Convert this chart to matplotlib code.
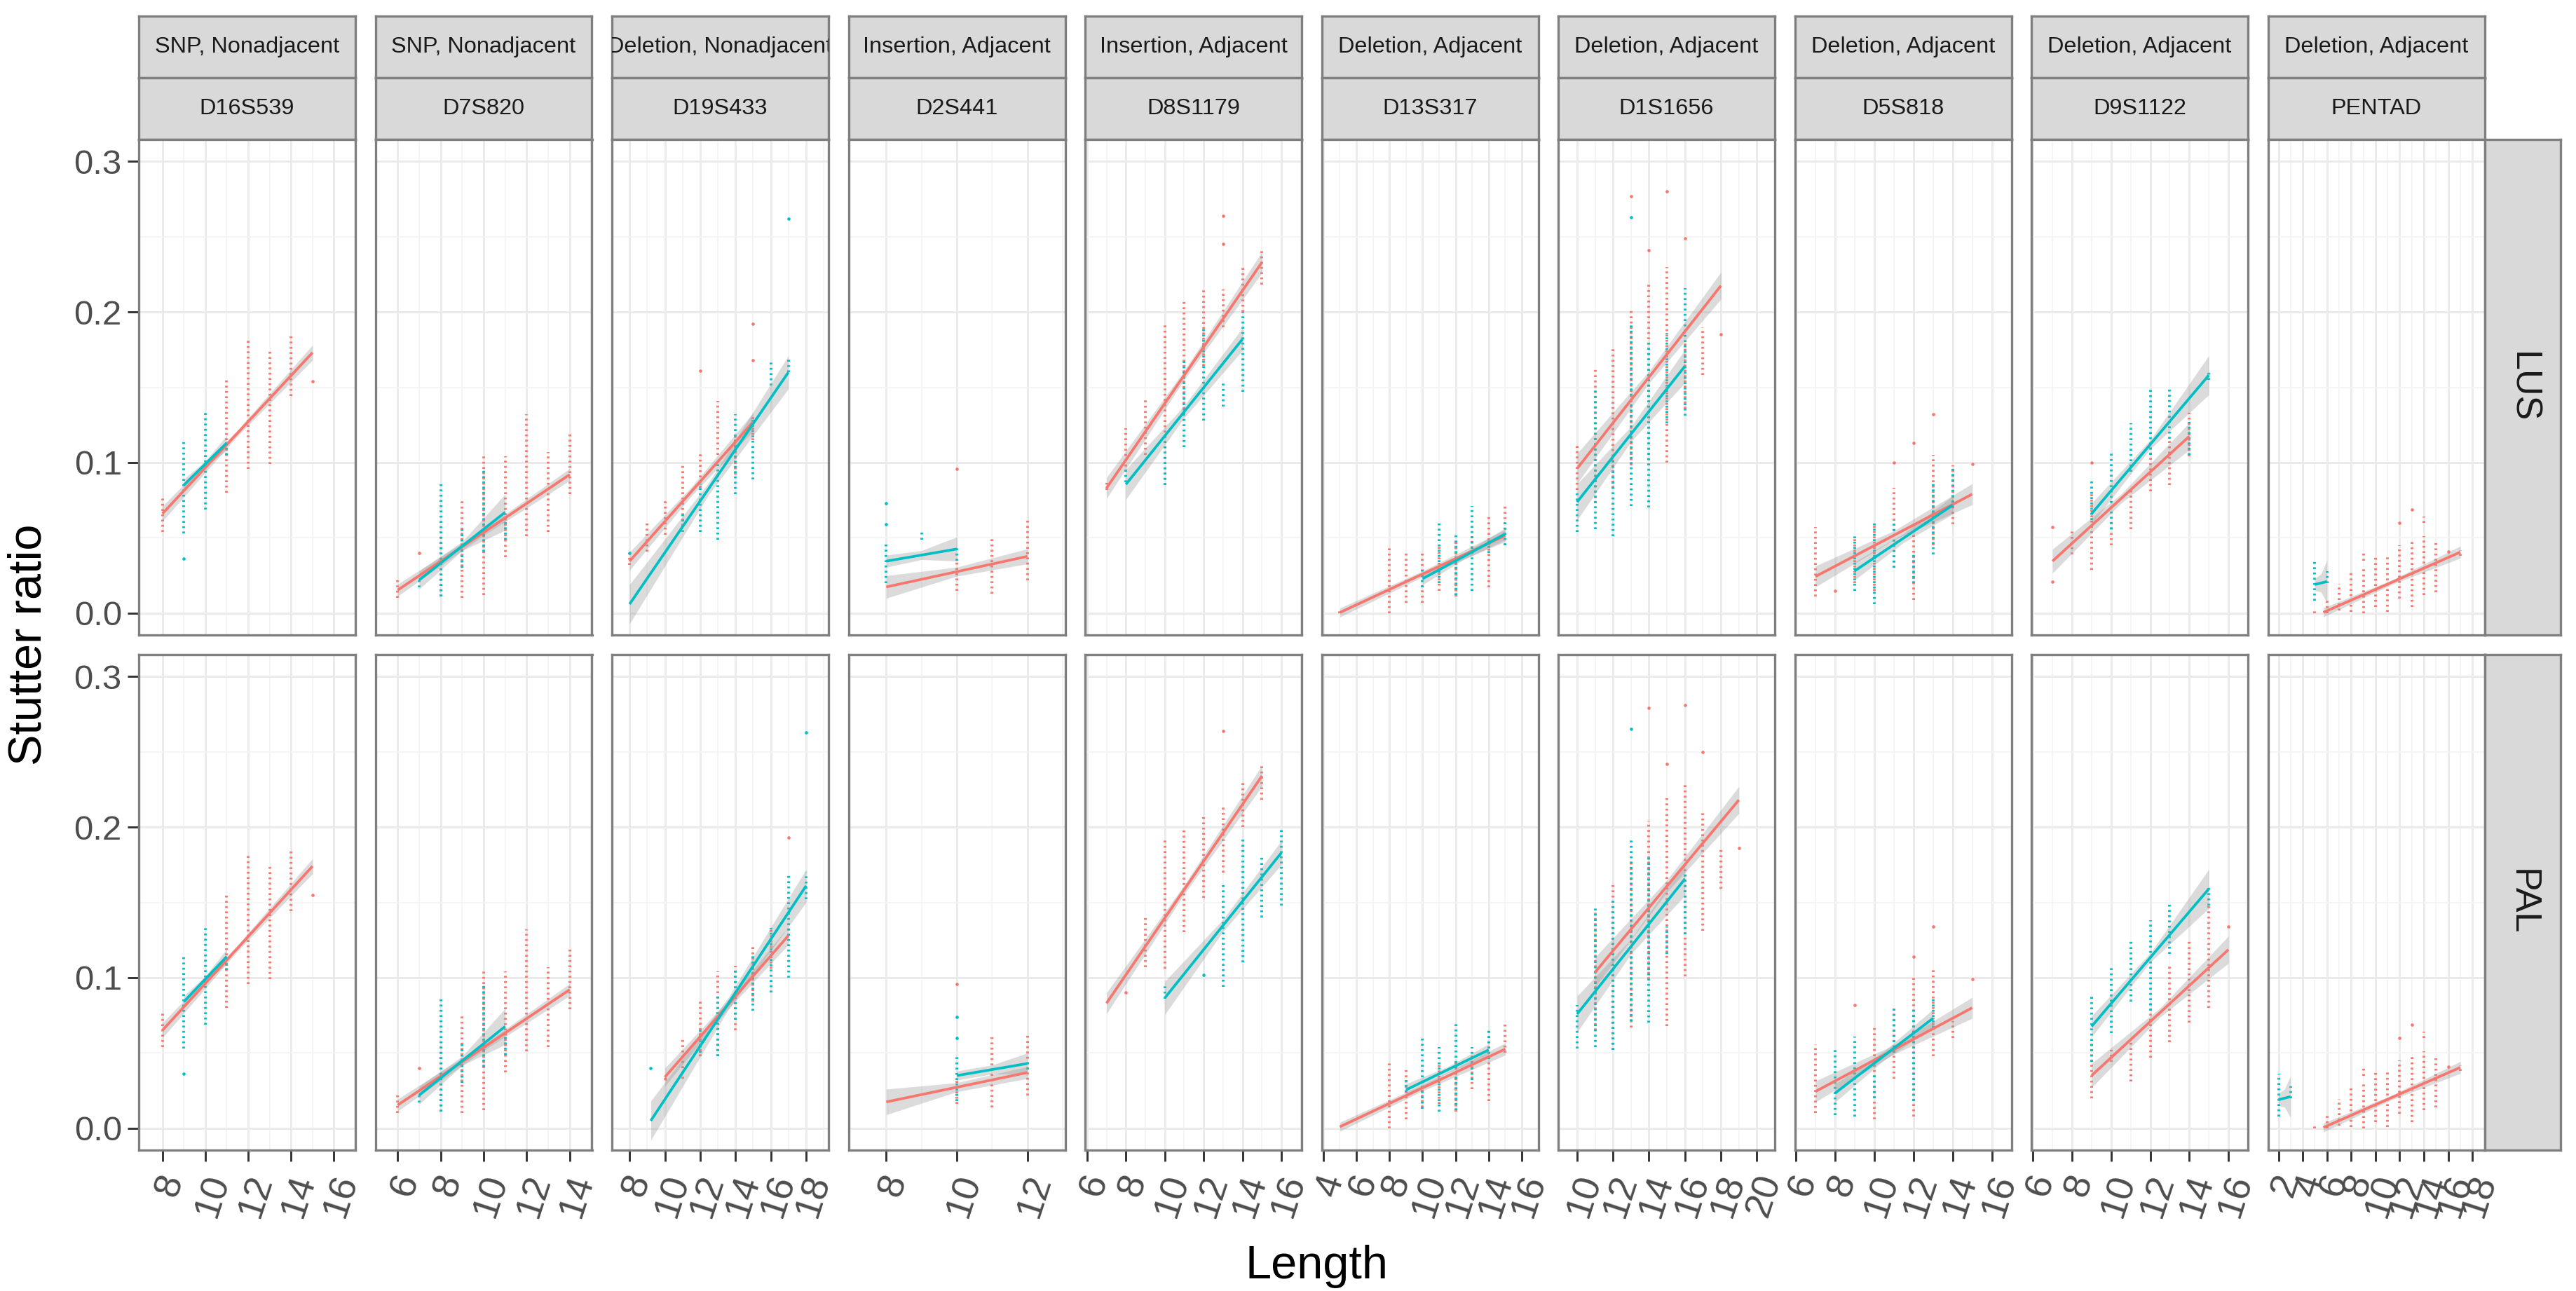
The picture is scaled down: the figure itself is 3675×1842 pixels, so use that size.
import matplotlib
matplotlib.use("Agg")
import matplotlib.pyplot as plt
import matplotlib.transforms as mtransforms

plt.rcParams['font.family'] = ['Liberation Sans', 'DejaVu Sans']

RED = '#F8766D'
CYAN = '#00BFC4'

# facet labels
types = ['SNP, Nonadjacent', 'SNP, Nonadjacent', 'Deletion, Nonadjacent',
         'Insertion, Adjacent', 'Insertion, Adjacent', 'Deletion, Adjacent',
         'Deletion, Adjacent', 'Deletion, Adjacent', 'Deletion, Adjacent',
         'Deletion, Adjacent']
markers = ['D16S539', 'D7S820', 'D19S433', 'D2S441', 'D8S1179', 'D13S317',
           'D1S1656', 'D5S818', 'D9S1122', 'PENTAD']
rows = ['LUS', 'PAL']

# x range and ticks of each column (free scales)
xlims = [(6.9, 16.0), (4.96, 15.04), (7.0, 19.27), (6.93, 13.07), (5.9, 17.04),
         (3.9, 16.0), (8.95, 20.0), (5.95, 16.0), (5.92, 17.0), (1.13, 18.0)]
xticks = [[8, 10, 12, 14, 16], [6, 8, 10, 12, 14], [8, 10, 12, 14, 16, 18],
          [8, 10, 12], [6, 8, 10, 12, 14, 16], [4, 6, 8, 10, 12, 14, 16],
          [10, 12, 14, 16, 18, 20], [6, 8, 10, 12, 14, 16],
          [6, 8, 10, 12, 14, 16], [2, 4, 6, 8, 10, 12, 14, 16, 18]]

# point clouds per length: (length, lowest ratio, highest ratio)
# fits: (x start, x end, y start, y end, band half-width at start, middle, end)
D16S539_LUS_RED = [(8, .054, .077), (11, .080, .156), (12, .096, .181), (13, .099, .176),
                   (14, .144, .186), (15, .154, .154)]
D16S539_LUS_CYAN = [(9, .053, .114), (9, .036, .036), (10, .069, .133), (11, .105, .115)]
D16S539_LUS_FIT = [(8, 15, .066, .173, .005, .002, .005), (9, 11, .085, .113, .004, .002, .005)]
D16S539_PAL_RED = [(8, .054, .077), (11, .080, .156), (12, .096, .181), (13, .099, .176),
                   (14, .144, .186), (15, .155, .155)]
D16S539_PAL_CYAN = [(9, .053, .114), (9, .036, .036), (10, .069, .133), (11, .105, .115)]
D16S539_PAL_FIT = [(8, 15, .065, .174, .005, .002, .005), (9, 11, .084, .114, .004, .002, .005)]

D7S820_LUS_RED = [(6, .010, .022), (7, .040, .040), (8, .011, .056), (9, .010, .075),
                  (10, .012, .106), (11, .037, .104), (12, .051, .132), (13, .054, .107),
                  (14, .079, .120)]
D7S820_LUS_CYAN = [(7, .017, .023), (8, .011, .087), (9, .030, .056), (10, .041, .095),
                   (11, .049, .062)]
D7S820_LUS_FIT = [(6, 14, .0153, .092, .004, .002, .004), (7, 11, .022, .067, .006, .003, .012)]
D7S820_PAL_RED = [(6, .010, .022), (7, .040, .040), (8, .011, .056), (9, .010, .075),
                  (10, .012, .106), (11, .037, .104), (12, .051, .132), (13, .054, .107),
                  (14, .079, .120)]
D7S820_PAL_CYAN = [(7, .017, .023), (8, .011, .087), (9, .030, .056), (10, .041, .095),
                   (11, .049, .062)]
D7S820_PAL_FIT = [(6, 14, .0154, .092, .004, .002, .004), (7, 11, .022, .0676, .006, .003, .012)]

D19S433_LUS_RED = [(8, .032, .040), (9, .041, .060), (10, .052, .075), (11, .058, .100),
                   (12, .083, .107), (12, .161, .161), (13, .105, .141), (14, .092, .118),
                   (15, .115, .130), (15, .168, .168), (15, .192, .192)]
D19S433_LUS_CYAN = [(8, .040, .040), (11, .054, .068), (12, .054, .086), (13, .049, .100),
                    (14, .079, .132), (15, .089, .130), (16, .151, .168), (17, .160, .170),
                    (17, .262, .262)]
D19S433_LUS_FIT = [(8, 15, .0345, .127, .006, .003, .006), (8, 17, .006, .160, .013, .004, .011)]
D19S433_PAL_RED = [(10, .033, .033), (11, .033, .061), (12, .048, .084), (13, .048, .104),
                   (14, .065, .108), (15, .084, .122), (16, .106, .132), (17, .128, .135),
                   (17, .193, .193)]
D19S433_PAL_CYAN = [(9.2, .040, .040), (12, .050, .067), (13, .048, .088), (14, .072, .106),
                    (15, .078, .115), (16, .090, .133), (17, .100, .170), (18, .152, .170),
                    (18, .263, .263)]
D19S433_PAL_FIT = [(10, 17, .034, .128, .006, .003, .006), (9.2, 18, .005, .161, .013, .004, .011)]

D2S441_LUS_RED = [(10, .015, .034), (10, .096, .096), (11, .013, .051), (12, .022, .062)]
D2S441_LUS_CYAN = [(8, .020, .048), (8, .059, .059), (8, .073, .073), (9, .049, .054),
                   (10, .035, .043)]
D2S441_LUS_FIT = [(8, 12, .0174, .0377, .0075, .003, .005), (8, 10, .0345, .0426, .004, .003, .008)]
D2S441_PAL_RED = [(10, .016, .033), (10, .096, .096), (11, .014, .062), (12, .022, .062)]
D2S441_PAL_CYAN = [(10, .018, .049), (10, .060, .060), (10, .074, .074), (12, .039, .046)]
D2S441_PAL_FIT = [(8, 12, .0175, .037, .0085, .003, .004), (10, 12, .035, .043, .003, .003, .007)]

D8S1179_LUS_RED = [(7, .082, .088), (8, .094, .123), (9, .105, .142), (10, .085, .192),
                   (11, .132, .208), (12, .164, .215), (13, .190, .215), (13, .245, .245),
                   (13, .264, .264), (14, .200, .230), (15, .218, .242)]
D8S1179_LUS_CYAN = [(8, .087, .097), (10, .085, .120), (11, .110, .168), (12, .128, .190),
                    (13, .137, .154), (14, .147, .200)]
D8S1179_LUS_FIT = [(7, 15, .083, .233, .007, .003, .007), (8, 14, .0855, .182, .010, .004, .0075)]
D8S1179_PAL_RED = [(8, .090, .090), (9, .107, .142), (10, .106, .193), (11, .130, .200),
                   (12, .153, .208), (13, .170, .215), (13, .264, .264), (14, .200, .230),
                   (15, .218, .242)]
D8S1179_PAL_CYAN = [(10, .086, .095), (12, .102, .102), (13, .094, .163), (14, .110, .193),
                    (15, .140, .180), (16, .148, .200)]
D8S1179_PAL_FIT = [(7, 15, .083, .234, .007, .003, .007), (10, 16, .0865, .183, .011, .004, .008)]

D13S317_LUS_RED = [(5, .000, .002), (8, .000, .043), (9, .007, .041), (10, .007, .041),
                   (11, .015, .045), (12, .011, .049), (13, .043, .051), (14, .017, .066),
                   (15, .045, .071)]
D13S317_LUS_CYAN = [(10, .017, .029), (11, .020, .060), (12, .012, .054), (13, .015, .071),
                    (14, .040, .050), (15, .045, .062)]
D13S317_LUS_FIT = [(5, 15, .0004, .0515, .003, .002, .004), (10, 15, .0228, .0526, .004, .002, .004)]
D13S317_PAL_RED = [(8, .000, .045), (9, .006, .041), (10, .014, .026), (11, .016, .044),
                   (12, .011, .046), (13, .026, .049), (14, .018, .067), (15, .050, .071)]
D13S317_PAL_CYAN = [(9, .024, .032), (10, .013, .060), (11, .011, .054), (12, .012, .070),
                    (13, .032, .054), (14, .046, .067)]
D13S317_PAL_FIT = [(5, 15, .001, .0526, .003, .002, .004), (9, 14, .0255, .052, .004, .002, .004)]

D1S1656_LUS_RED = [(10, .082, .113), (11, .073, .162), (12, .083, .177), (13, .098, .203),
                   (13, .277, .277), (14, .098, .220), (14, .241, .241), (15, .100, .230),
                   (15, .280, .280), (16, .136, .180), (16, .249, .249), (17, .158, .190),
                   (18, .185, .185)]
D1S1656_LUS_CYAN = [(10, .054, .081), (11, .056, .149), (12, .051, .103), (13, .071, .192),
                    (13, .263, .263), (14, .070, .179), (15, .126, .186), (16, .131, .216)]
D1S1656_LUS_FIT = [(10, 18, .096, .2174, .010, .004, .009), (10, 16, .0738, .164, .012, .005, .011)]
D1S1656_PAL_RED = [(11, .065, .144), (12, .052, .162), (13, .067, .177), (14, .099, .204),
                   (14, .279, .279), (15, .068, .221), (15, .242, .242), (16, .101, .230),
                   (16, .281, .281), (17, .131, .210), (17, .250, .250), (18, .159, .185),
                   (19, .186, .186)]
D1S1656_PAL_CYAN = [(10, .053, .082), (11, .054, .146), (12, .052, .152), (13, .071, .192),
                    (13, .265, .265), (14, .070, .180), (15, .116, .134), (16, .129, .170)]
D1S1656_PAL_FIT = [(11, 19, .1036, .218, .010, .004, .009), (10, 16, .0758, .1656, .012, .005, .011)]

D5S818_LUS_RED = [(7, .011, .057), (8, .015, .015), (9, .020, .050), (10, .015, .060),
                  (11, .030, .083), (11, .100, .100), (12, .009, .054), (12, .113, .113),
                  (13, .045, .105), (13, .132, .132), (14, .059, .098), (15, .099, .099)]
D5S818_LUS_CYAN = [(9, .015, .053), (10, .006, .061), (11, .030, .062), (12, .020, .041),
                   (13, .039, .088), (14, .070, .098)]
D5S818_LUS_FIT = [(7, 15, .0243, .079, .007, .003, .007), (9, 14, .028, .0717, .006, .003, .006)]
D5S818_PAL_RED = [(7, .010, .056), (9, .082, .082), (10, .006, .068), (11, .033, .081),
                  (12, .008, .102), (12, .114, .114), (13, .048, .105), (13, .134, .134),
                  (14, .060, .071), (15, .099, .099)]
D5S818_PAL_CYAN = [(8, .009, .054), (9, .008, .061), (10, .020, .037), (11, .050, .079),
                   (12, .018, .079), (13, .067, .086)]
D5S818_PAL_FIT = [(7, 15, .0244, .080, .007, .003, .007), (8, 13, .0233, .073, .006, .003, .006)]

D9S1122_LUS_RED = [(7, .021, .021), (7, .057, .057), (8, .039, .055), (9, .029, .079),
                   (9, .100, .100), (10, .045, .060), (11, .056, .083), (12, .081, .113),
                   (13, .085, .115), (14, .104, .133)]
D9S1122_LUS_CYAN = [(9, .062, .088), (10, .056, .107), (11, .094, .126), (12, .105, .149),
                    (13, .116, .150), (14, .105, .127), (15, .155, .160)]
D9S1122_LUS_FIT = [(7, 14, .0345, .1174, .008, .003, .009), (9, 15, .066, .158, .007, .003, .013)]
D9S1122_PAL_RED = [(9, .020, .058), (10, .044, .052), (11, .031, .058), (12, .047, .084),
                   (13, .057, .109), (14, .070, .125), (15, .080, .148), (16, .134, .134)]
D9S1122_PAL_CYAN = [(9, .044, .088), (10, .063, .108), (11, .084, .124), (12, .078, .138),
                    (13, .116, .150), (15, .148, .160)]
D9S1122_PAL_FIT = [(9, 16, .035, .1186, .008, .003, .009), (9, 15, .0676, .159, .007, .003, .013)]

PENTAD_LUS_RED = [(5, .000, .003), (6, .000, .010), (7, .002, .0195), (8, .001, .029),
                  (9, .000, .031), (9, .035, .040), (10, .004, .038), (11, .001, .037),
                  (12, .0097, .045), (12, .060, .060), (13, .004, .049), (13, .069, .069),
                  (14, .012, .051), (14, .060, .064), (15, .014, .047), (16, .041, .041),
                  (17, .038, .042)]
PENTAD_LUS_CYAN = [(5, .0085, .036), (6, .020, .028)]
PENTAD_LUS_FIT = [(5.7, 17, .0005, .0405, .003, .0015, .004), (5, 6, .019, .021, .004, .006, .014)]
PENTAD_PAL_RED = [(5, .000, .003), (6, .000, .010), (7, .002, .0195), (8, .001, .029),
                  (9, .000, .031), (9, .035, .040), (10, .004, .038), (11, .001, .037),
                  (12, .0097, .045), (12, .060, .060), (13, .004, .049), (13, .069, .069),
                  (14, .012, .051), (14, .060, .064), (15, .014, .047), (16, .041, .041),
                  (17, .038, .042)]
PENTAD_PAL_CYAN = [(2, .008, .036), (3, .020, .028)]
PENTAD_PAL_FIT = [(5.7, 17, .0005, .0404, .003, .0015, .004), (2, 3, .019, .021, .004, .006, .014)]

panel_data = {
    'D16S539': [(D16S539_LUS_RED, D16S539_LUS_CYAN, D16S539_LUS_FIT),
                (D16S539_PAL_RED, D16S539_PAL_CYAN, D16S539_PAL_FIT)],
    'D7S820': [(D7S820_LUS_RED, D7S820_LUS_CYAN, D7S820_LUS_FIT),
               (D7S820_PAL_RED, D7S820_PAL_CYAN, D7S820_PAL_FIT)],
    'D19S433': [(D19S433_LUS_RED, D19S433_LUS_CYAN, D19S433_LUS_FIT),
                (D19S433_PAL_RED, D19S433_PAL_CYAN, D19S433_PAL_FIT)],
    'D2S441': [(D2S441_LUS_RED, D2S441_LUS_CYAN, D2S441_LUS_FIT),
               (D2S441_PAL_RED, D2S441_PAL_CYAN, D2S441_PAL_FIT)],
    'D8S1179': [(D8S1179_LUS_RED, D8S1179_LUS_CYAN, D8S1179_LUS_FIT),
                (D8S1179_PAL_RED, D8S1179_PAL_CYAN, D8S1179_PAL_FIT)],
    'D13S317': [(D13S317_LUS_RED, D13S317_LUS_CYAN, D13S317_LUS_FIT),
                (D13S317_PAL_RED, D13S317_PAL_CYAN, D13S317_PAL_FIT)],
    'D1S1656': [(D1S1656_LUS_RED, D1S1656_LUS_CYAN, D1S1656_LUS_FIT),
                (D1S1656_PAL_RED, D1S1656_PAL_CYAN, D1S1656_PAL_FIT)],
    'D5S818': [(D5S818_LUS_RED, D5S818_LUS_CYAN, D5S818_LUS_FIT),
               (D5S818_PAL_RED, D5S818_PAL_CYAN, D5S818_PAL_FIT)],
    'D9S1122': [(D9S1122_LUS_RED, D9S1122_LUS_CYAN, D9S1122_LUS_FIT),
                (D9S1122_PAL_RED, D9S1122_PAL_CYAN, D9S1122_PAL_FIT)],
    'PENTAD': [(PENTAD_LUS_RED, PENTAD_LUS_CYAN, PENTAD_LUS_FIT),
               (PENTAD_PAL_RED, PENTAD_PAL_CYAN, PENTAD_PAL_FIT)],
}

yticks = [0.0, 0.1, 0.2, 0.3]
ylim = (-0.0145, 0.3145)

W, H = 3675, 1842
fig = plt.figure(figsize=(W / 300, H / 300), dpi=300)


def px_axes(left, top, width, height):
    # add axes using pixel coordinates measured from the top left corner
    return fig.add_axes([left / W, 1 - (top + height) / H, width / W, height / H])


def draw_cloud(ax, cols, color):
    for x, lo, hi in cols:
        if hi - lo < 0.002:
            ax.plot([x], [(lo + hi) / 2], 'o', ms=1.1, mew=0, color=color, zorder=2)
        else:
            ax.vlines(x, lo, hi, color=color, lw=0.9, linestyles=(0, (0.7, 1.3)), zorder=2)


def draw_fit(ax, fit, color):
    x0, x1, y0, y1, w0, wm, w1 = fit
    xm = (x0 + x1) / 2
    ym = (y0 + y1) / 2
    ax.fill_between([x0, xm, x1], [y0 - w0, ym - wm, y1 - w1], [y0 + w0, ym + wm, y1 + w1],
                    color='#999999', alpha=0.35, lw=0, zorder=3)
    ax.plot([x0, x1], [y0, y1], color=color, lw=0.9, zorder=4, solid_capstyle='butt')


panel_w, panel_h = 309, 707
row_tops = [199, 934]
strip_h = 88
border = '#7F7F7F'
strip_fill = '#D9D9D9'

for j, marker in enumerate(markers):
    left = 198 + j * 337.5
    ticks = xticks[j]
    minor = [t + 1 for t in ticks]

    # two strip rows on top of each column
    for k, label in enumerate([types[j], marker]):
        sax = px_axes(left, 23 + k * strip_h, panel_w, strip_h)
        sax.set_facecolor(strip_fill)
        sax.set_xticks([])
        sax.set_yticks([])
        for sp in sax.spines.values():
            sp.set_color(border)
            sp.set_linewidth(0.8)
        sax.text(0.5, 0.5, label, transform=sax.transAxes, ha='center', va='center',
                 fontsize=7.8, color='#1A1A1A', clip_on=True)

    for i, row in enumerate(rows):
        ax = px_axes(left, row_tops[i], panel_w, panel_h)
        ax.set_xlim(*xlims[j])
        ax.set_ylim(*ylim)
        ax.set_xticks(ticks)
        ax.set_xticks(minor, minor=True)
        ax.set_yticks(yticks)
        ax.set_yticks([0.05, 0.15, 0.25], minor=True)
        ax.grid(which='major', color='#EBEBEB', lw=0.7, zorder=0)
        ax.grid(which='minor', color='#F4F4F4', lw=0.4, zorder=0)
        ax.set_axisbelow(True)
        for sp in ax.spines.values():
            sp.set_color(border)
            sp.set_linewidth(0.8)
        ax.tick_params(which='minor', length=0)
        ax.tick_params(which='major', length=3.8, width=0.7, color='#333333',
                       labelsize=11.8, labelcolor='#4D4D4D', pad=2)

        reds, cyans, fits = panel_data[marker][i]
        draw_cloud(ax, reds, RED)
        draw_cloud(ax, cyans, CYAN)
        draw_fit(ax, fits[0], RED)
        draw_fit(ax, fits[1], CYAN)

        if j == 0:
            ax.set_yticklabels(['%.1f' % v for v in yticks])
        else:
            ax.tick_params(axis='y', which='both', left=False, labelleft=False)
        if i == 1:
            ax.set_xticklabels([str(t) for t in ticks])
            offset = mtransforms.ScaledTranslation(2.5 / 72, -1 / 72, fig.dpi_scale_trans)
            for lab in ax.get_xticklabels():
                lab.set_rotation(72)
                lab.set_fontsize(13)
                lab.set_ha('center')
                lab.set_va('top')
                lab.set_transform(lab.get_transform() + offset)
        else:
            ax.tick_params(axis='x', which='both', bottom=False, labelbottom=False)

        if j == len(markers) - 1:
            rax = px_axes(left + panel_w, row_tops[i], 108, panel_h)
            rax.set_facecolor(strip_fill)
            rax.set_xticks([])
            rax.set_yticks([])
            for sp in rax.spines.values():
                sp.set_color(border)
                sp.set_linewidth(0.8)
            rax.text(0.5, 0.5, row, transform=rax.transAxes, rotation=-90,
                     ha='center', va='center', fontsize=12.5, color='#1A1A1A')

fig.text(1878 / W, 1 - 1807 / H, 'Length', ha='center', va='center', fontsize=16)
fig.text(42 / W, 1 - 920 / H, 'Stutter ratio', ha='center', va='center',
         rotation=90, fontsize=16)

fig.savefig('out.png', dpi=300, facecolor='white')
